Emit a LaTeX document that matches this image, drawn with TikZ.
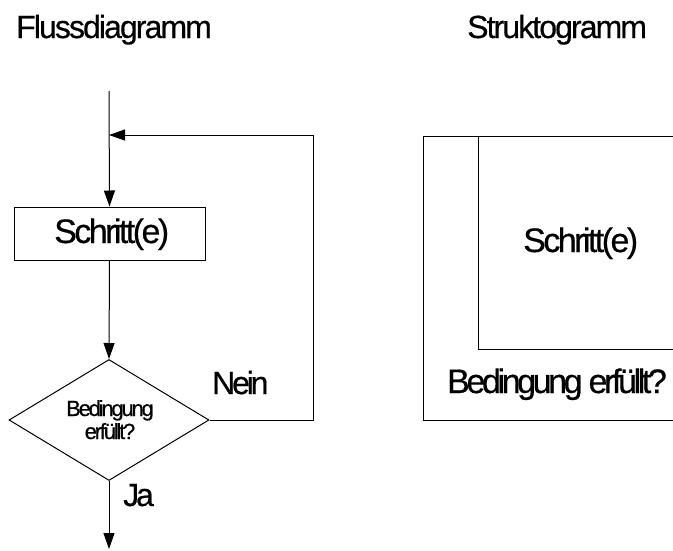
\documentclass[tikz,border=0pt]{standalone}
\usepackage{fontspec}
\setmainfont{Liberation Sans}[LetterSpace=-10,FakeBold=0.5]
\newfontfamily\titlefont{Liberation Sans}[LetterSpace=-6,FakeBold=0.5]
\newfontfamily\stepfont{Liberation Sans}[LetterSpace=-7.5,FakeBold=0.5]
\usetikzlibrary{arrows.meta,shapes.geometric}
\tikzset{
  ln/.style={draw=black,line width=1pt},
  arr/.style={ln,-{Triangle[length=16pt,width=11pt]}},
  ttl/.style={inner sep=0pt,anchor=base west,font=\titlefont\fontsize{32}{36}\selectfont},
  lbl/.style={inner sep=0pt,anchor=base west,font=\fontsize{32}{36}\selectfont},
  steptxt/.style={inner sep=0pt,anchor=base west,font=\stepfont\fontsize{34}{38}\selectfont},
  bigtxt/.style={inner sep=0pt,anchor=base west,font=\fontsize{34}{38}\selectfont},
  smalltxt/.style={inner sep=0pt,anchor=base,font=\fontsize{22}{23}\selectfont},
  stepbox/.style={ln,rectangle,minimum width=191pt,minimum height=53pt,inner sep=0pt},
  decision/.style={ln,diamond,aspect=1.65,minimum width=200pt,minimum height=121pt,inner sep=0pt},
}
\begin{document}
\begin{tikzpicture}[x=1pt,y=-1pt]
\useasboundingbox (0,0) rectangle (673,550);
% titles
\node[ttl] (t1) at (16,38) {Flussdiagramm};
\node[ttl] (t2) at (467,38) {Struktogramm};
% flowchart
\coordinate (start) at (109,91);
\coordinate (merge) at (109,135);
\node[stepbox] (box) at (109.5,233.5) {};
\node[steptxt] (boxt) at (54,243) {Schritt(e)};
\node[decision] (dia) at (109,420) {};
\node[smalltxt] (d1) at (110,416) {Bedingung};
\node[smalltxt] (d2) at (110,439) {erfüllt?};
\coordinate (corner) at (313,135);
\coordinate (end) at (109,549);
\draw[arr] (start) -- (box.north);
\draw[arr] (box.south) -- (dia.north);
\draw[arr] (dia.east) -| (corner) -- (merge);
\draw[arr] (dia.south) -- (end);
\node[lbl] (nein) at (212,394) {Nein};
\node[lbl] (ja) at (123,506) {Ja};
% struktogramm
\coordinate (o1) at (674,136);
\coordinate (o2) at (423,136);
\coordinate (o3) at (423,420);
\coordinate (o4) at (674,420);
\coordinate (i1) at (478,136);
\coordinate (i2) at (478,349);
\coordinate (i3) at (674,349);
\draw[ln] (o1) -- (o2) -- (o3) -- (o4);
\draw[ln] (i1) -- (i2) -- (i3);
\node[steptxt] (s1) at (523,252) {Schritt(e)};
\node[bigtxt] (s2) at (447,393) {Bedingung erfüllt?};
\end{tikzpicture}
\end{document}
